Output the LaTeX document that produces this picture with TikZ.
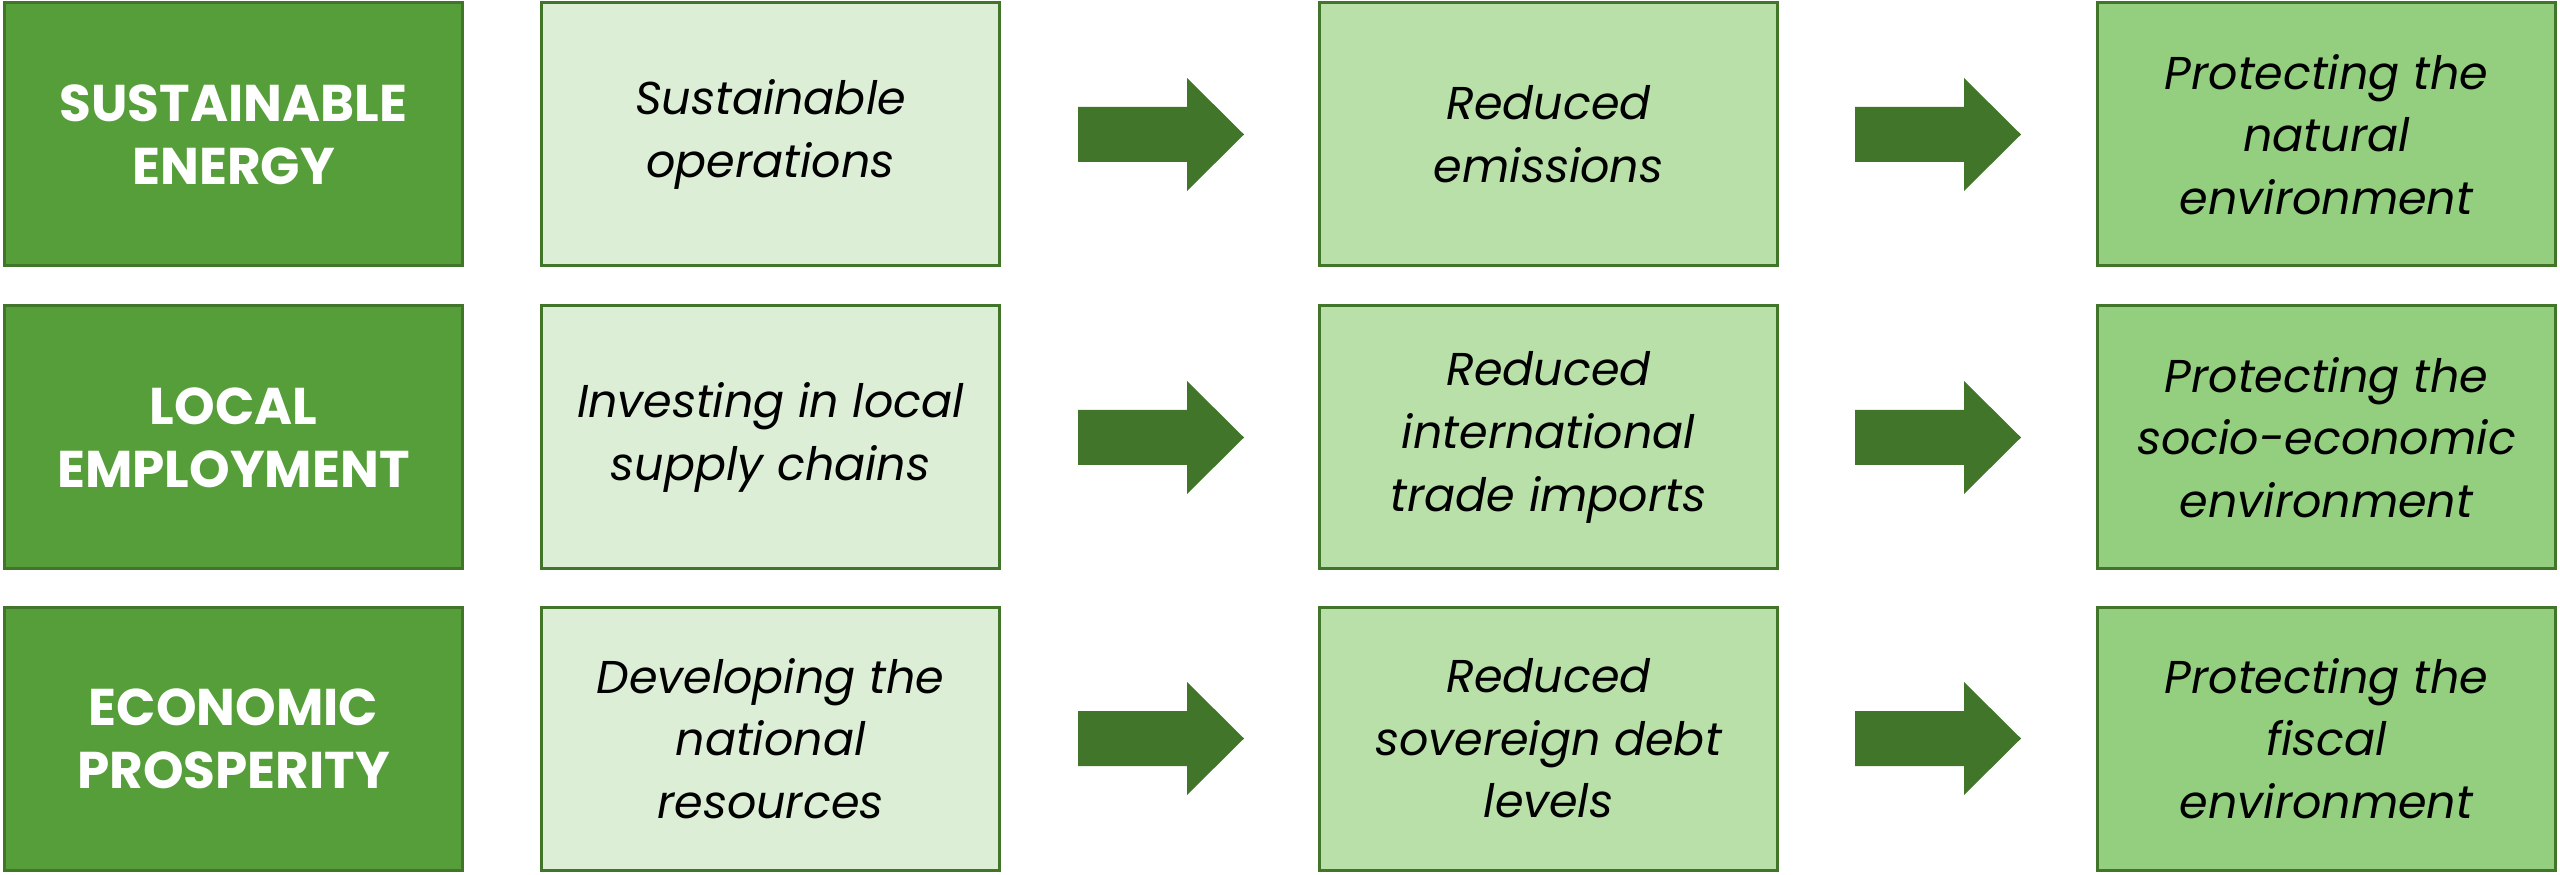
\documentclass[tikz,border=0pt]{standalone}
\usepackage{fontspec}
\setmainfont{Poppins}
\definecolor{hdrfill}{HTML}{559E3A}
\definecolor{edge}{HTML}{41752A}
\definecolor{c2fill}{HTML}{DCEFD6}
\definecolor{c3fill}{HTML}{B8E0A8}
\definecolor{c4fill}{HTML}{93CF7E}
\begin{document}
\begin{tikzpicture}[x=0.3pt,y=-0.3pt,
  box/.style={draw=edge,line width=0.9pt,minimum width=137.4pt,minimum height=78.9pt,inner sep=0pt,align=center},
  hdr/.style={box,fill=hdrfill,text=white,font=\fontsize{15.5}{19}\selectfont\bfseries},
  stage1/.style={box,fill=c2fill,font=\fontsize{13.8}{18.8}\selectfont\itshape},
  stage2/.style={box,fill=c3fill,font=\fontsize{13.8}{18.8}\selectfont\itshape},
  stage3/.style={box,fill=c4fill,font=\fontsize{13.8}{18.8}\selectfont\itshape},
  blockarrow/.style={fill=edge}]
\useasboundingbox (0,0) rectangle (2560,875);
% row 1
\node[hdr] (h1) at (233.5,134.5) {SUSTAINABLE\\ENERGY};
\node[stage1] (a1) at (770.5,134.5) {Sustainable\\operations};
\node[stage2] (b1) at (1548.5,134.5) {Reduced\\emissions};
\node[stage3] (c1) at (2326.5,134.5) {Protecting the\\natural\\environment};
% row 2
\node[hdr] (h2) at (233.5,437.5) {LOCAL\\EMPLOYMENT};
\node[stage1] (a2) at (770.5,437.5) {Investing in local\\supply chains};
\node[stage2] (b2) at (1548.5,437.5) {Reduced\\international\\trade imports};
\node[stage3] (c2) at (2326.5,437.5) {Protecting the\\socio-economic\\environment};
% row 3
\node[hdr] (h3) at (233.5,738.5) {ECONOMIC\\PROSPERITY};
\node[stage1] (a3) at (770.5,738.5) {Developing the\\national\\resources};
\node[stage2] (b3) at (1548.5,738.5) {Reduced\\sovereign debt\\levels};
\node[stage3] (c3) at (2326.5,738.5) {Protecting the\\fiscal\\environment};
% block arrows
\foreach \r in {1,2,3}{
  \foreach \s/\t/\x in {a/b/1078,b/c/1855}{
    \coordinate (p\s\r) at (\x, 0 |- \s\r.center);
    \fill[blockarrow] (p\s\r) ++(0,-27.5) -- ++(109,0) -- ++(0,-29) -- ++(57,56.5) -- ++(-57,56.5) -- ++(0,-29) -- ++(-109,0) -- cycle;
  }
}
\end{tikzpicture}
\end{document}
